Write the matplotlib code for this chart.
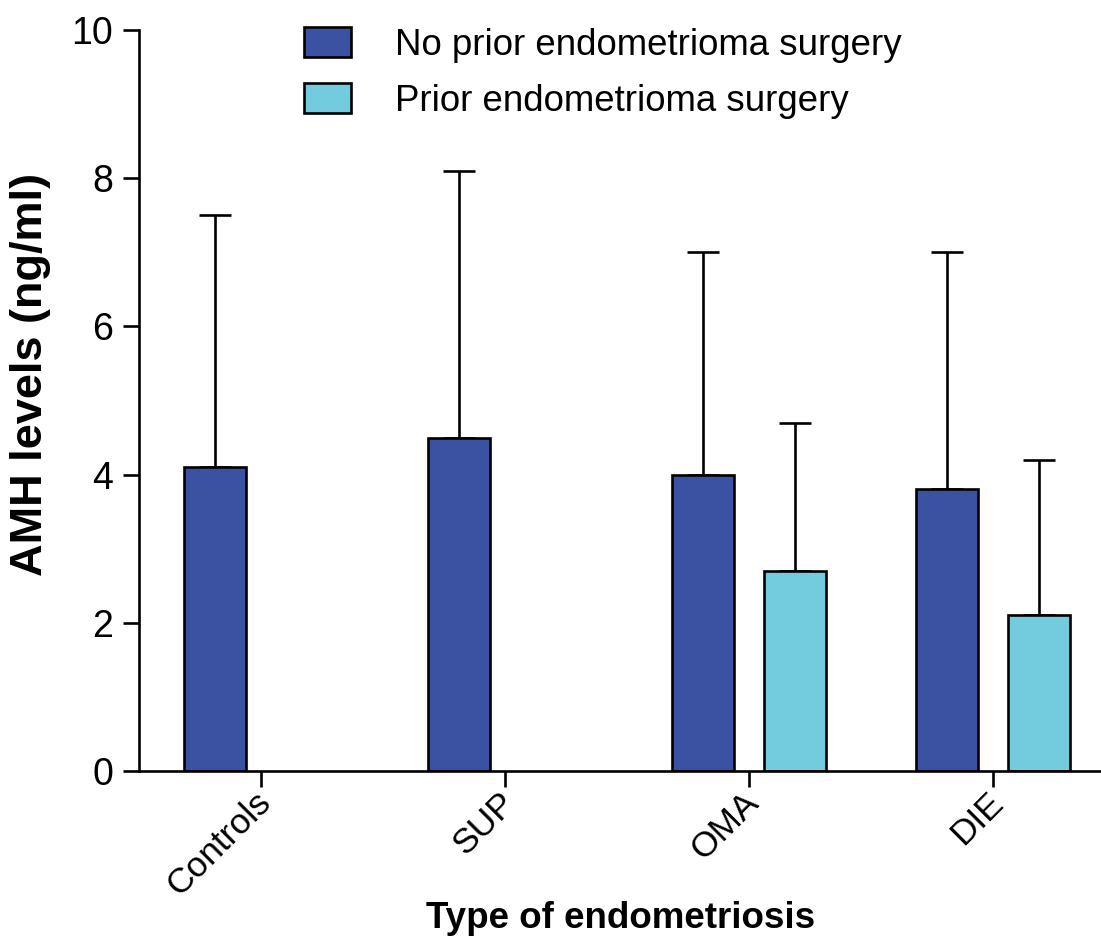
import matplotlib
matplotlib.use("Agg")
import matplotlib.pyplot as plt
from matplotlib.transforms import ScaledTranslation
import numpy as np

categories = ["Controls", "SUP", "OMA", "DIE"]
no_prior_mean = [4.1, 4.5, 4.0, 3.8]
no_prior_err = [3.4, 3.6, 3.0, 3.2]
prior_mean = [np.nan, np.nan, 2.7, 2.1]
prior_err = [np.nan, np.nan, 2.0, 2.1]
series_labels = ["No prior endometrioma surgery", "Prior endometrioma surgery"]
yticks = [0, 2, 4, 6, 8, 10]

dark = "#3B52A3"
light = "#72CCDE"

plt.rcParams["font.family"] = ["Liberation Sans", "DejaVu Sans"]

W, H = 1101, 943
fig = plt.figure(figsize=(W / 100, H / 100), dpi=100)
ax = fig.add_axes([139 / W, 172 / H, 976 / W, 741 / H])

x = np.arange(len(categories))
width = 0.254
offset = 0.187
lw = 1.9

bars1 = ax.bar(x - offset, no_prior_mean, width, color=dark, edgecolor="black",
               linewidth=lw, label=series_labels[0], zorder=3)
ax.errorbar(x - offset, no_prior_mean, yerr=[np.zeros(len(x)), no_prior_err],
            fmt="none", ecolor="black", elinewidth=lw, capsize=11.5, capthick=lw, zorder=2)

mask = ~np.isnan(prior_mean)
bars2 = ax.bar(x[mask] + offset, np.array(prior_mean)[mask], width, color=light,
               edgecolor="black", linewidth=lw, label=series_labels[1], zorder=3)
ax.errorbar(x[mask] + offset, np.array(prior_mean)[mask],
            yerr=[np.zeros(mask.sum()), np.array(prior_err)[mask]],
            fmt="none", ecolor="black", elinewidth=lw, capsize=11.5, capthick=lw, zorder=2)

ax.set_xlim(-0.5, 3.5)
ax.set_ylim(0, 10)
ax.set_yticks(yticks)
ax.set_yticklabels([str(t) for t in yticks], fontsize=27)
ax.set_xticks(x)
ax.set_xticklabels(categories, fontsize=25.5, rotation=45, ha="right",
                   rotation_mode="anchor")

for side in ("top", "right"):
    ax.spines[side].set_visible(False)
for side in ("left", "bottom"):
    ax.spines[side].set_linewidth(lw)
ax.spines["bottom"].set_zorder(4)
ax.tick_params(axis="both", width=lw, length=11.5, color="black", pad=7)
ax.tick_params(axis="x", pad=5)

# nudge the slanted category labels up and to the left
shift = ScaledTranslation(-0.07, 0.08, fig.dpi_scale_trans)
for lbl in ax.get_xticklabels():
    lbl.set_transform(lbl.get_transform() + shift)

ax.set_ylabel("AMH levels (ng/ml)", fontsize=32.5, fontweight="bold")
ax.yaxis.set_label_coords(-0.090, 0.535)
ax.set_xlabel("Type of endometriosis", fontsize=26.5, fontweight="bold")
ax.xaxis.set_label_coords(0.493, -0.176)

leg = fig.legend(handles=[bars1, bars2], labels=series_labels, loc="upper left",
                 bbox_to_anchor=(304 / W, 1 - 27 / H), frameon=False, fontsize=26.4,
                 handlelength=1.28, handleheight=0.9, handletextpad=1.2,
                 labelspacing=0.55, borderpad=0, borderaxespad=0)

fig.savefig("out.png", dpi=100)
